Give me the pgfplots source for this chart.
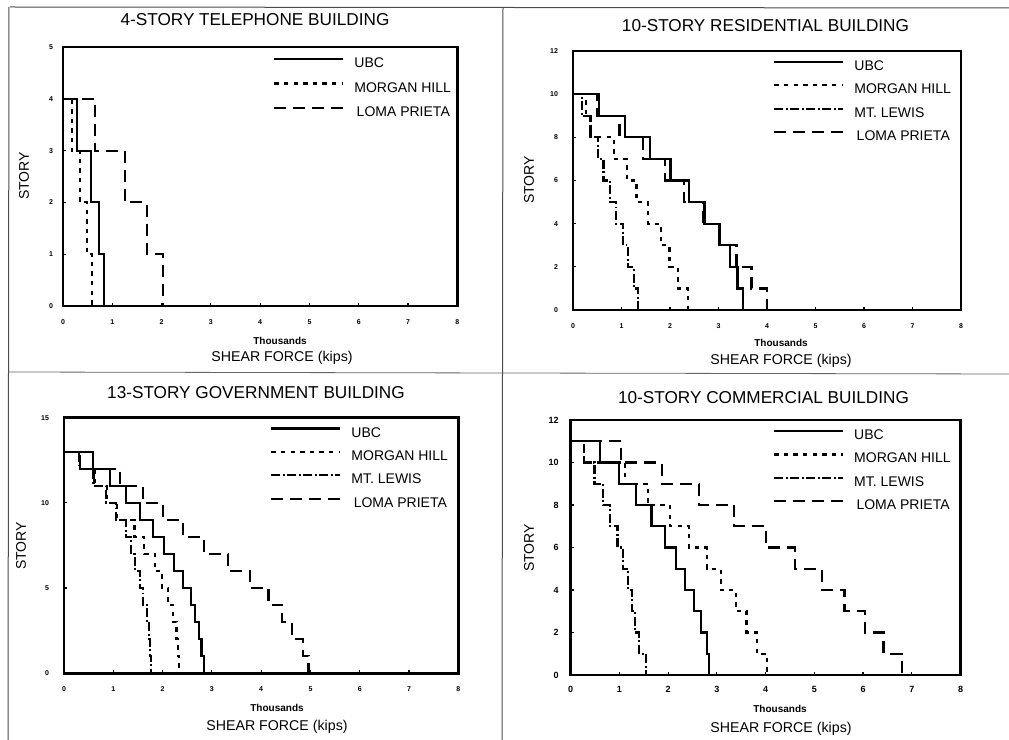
\documentclass[border=0pt]{standalone}
\usepackage{fontspec}
\setmainfont{Liberation Sans}
\usepackage{pgfplots}
\pgfplotsset{compat=1.18}

% story shear envelopes: each step plot starts at (0,N) and then lists (V_k, k-1),
% V_k = shear of story k (thousand kips), drawn with const plot mark left
\pgfplotsset{
  shearpanel/.style={
    scale only axis, anchor=south west,
    xmin=0, xmax=8, xtick={0,...,8}, ymin=0,
    tick pos=left, tick align=inside, major tick length=1.5pt,
    axis line style={line width=1.4pt},
    tick style={black, line width=0.6pt},
    ticklabel style={font=\fontsize{3.5}{4}\selectfont\bfseries},
    /pgf/number format/assume math mode=true,
    xticklabel shift=3.2pt, yticklabel shift=3pt,
    legend cell align=left,
    legend image code/.code={\draw[##1] (0pt,2.5pt) -- (34.5pt,2.5pt); \path (39.5pt,0pt);},
    legend style={draw=none, fill=none, anchor=north west, inner sep=0pt,
      font=\fontsize{7}{8}\selectfont,
      nodes={inner sep=0pt, text height=5pt, text depth=1.5pt}},
  },
  ubc/.style={black, line width=1.1pt, const plot mark left},
  morgan/.style={black, line width=1.1pt, dash pattern=on 2.2pt off 2.6pt, const plot mark left},
  lewis/.style={black, line width=1.1pt, dash pattern=on 4.5pt off 1.3pt on 0.9pt off 1.3pt, const plot mark left},
  loma/.style={black, line width=1.1pt, dash pattern=on 6pt off 3.5pt, const plot mark left},
}

\begin{document}
\begin{tikzpicture}

% 4-story telephone building
\begin{axis}[shearpanel, at={(31.5pt,217pt)}, width=197.2pt, height=129.5pt,
  ymax=5, ytick={0,...,5}, yticklabel shift=1.5pt,
  legend style={at={(0.532,0.961)}, row sep=5.75pt}]
\addplot[ubc] coordinates {(0,4)(0.29,3)(0.57,2)(0.73,1)(0.83,0)};
\addlegendentry{UBC}
\addplot[morgan] coordinates {(0,4)(0.18,3)(0.34,2)(0.48,1)(0.59,0)};
\addlegendentry{MORGAN HILL}
\addplot[loma] coordinates {(0,4)(0.65,3)(1.26,2)(1.71,1)(2.03,0)};
\addlegendentry{\,LOMA PRIETA}
\end{axis}

% 10-story residential building
\begin{axis}[shearpanel, at={(286.5pt,215pt)}, width=194pt, height=129.5pt,
  ymax=12, ytick={0,2,...,12}, yticklabel shift=4pt,
  legend style={at={(0.515,0.965)}, row sep=5.2pt}]
\addplot[ubc] coordinates {(0,10)(0.53,9)(1.07,8)(1.58,7)(2.01,6)(2.40,5)(2.71,4)(3.02,3)(3.24,2)(3.39,1)(3.51,0)};
\addlegendentry{UBC}
\addplot[morgan] coordinates {(0,10)(0.27,9)(0.36,8)(0.84,7)(1.11,6)(1.31,5)(1.55,4)(1.81,3)(1.99,2)(2.16,1)(2.37,0)};
\addlegendentry{MORGAN HILL}
\addplot[lewis] coordinates {(0,10)(0.18,9)(0.36,8)(0.51,7)(0.63,6)(0.76,5)(0.89,4)(1.03,3)(1.13,2)(1.25,1)(1.34,0)};
\addlegendentry{MT. LEWIS}
\addplot[loma] coordinates {(0,10)(0.50,9)(0.96,8)(1.45,7)(1.89,6)(2.29,5)(2.68,4)(3.01,3)(3.37,2)(3.68,1)(4.00,0)};
\addlegendentry{\,LOMA PRIETA}
\end{axis}

% 13-story government building
\begin{axis}[shearpanel, at={(32pt,33.35pt)}, width=197.2pt, height=127.8pt,
  ymax=15, ytick={0,5,10,15}, yticklabel shift=4pt,
  legend style={at={(0.522,0.965)}, row sep=5.2pt}]
\addplot[ubc] coordinates {(0,13)(0.59,12)(0.93,11)(1.25,10)(1.54,9)(1.81,8)(2.03,7)(2.23,6)(2.41,5)(2.57,4)(2.66,3)(2.74,2)(2.79,1)(2.84,0)};
\addlegendentry{UBC}
\addplot[morgan] coordinates {(0,13)(0.33,12)(0.62,11)(0.88,10)(1.08,9)(1.43,8)(1.63,7)(1.84,6)(1.99,5)(2.11,4)(2.21,3)(2.28,2)(2.31,1)(2.33,0)};
\addlegendentry{MORGAN HILL}
\addplot[lewis] coordinates {(0,13)(0.30,12)(0.60,11)(0.85,10)(1.05,9)(1.25,8)(1.36,7)(1.44,6)(1.54,5)(1.60,4)(1.69,3)(1.73,2)(1.75,1)(1.77,0)};
\addlegendentry{MT. LEWIS}
\addplot[loma] coordinates {(0,13)(0.33,12)(1.14,11)(1.60,10)(2.01,9)(2.41,8)(2.84,7)(3.33,6)(3.77,5)(4.15,4)(4.43,3)(4.63,2)(4.84,1)(4.96,0)};
\addlegendentry{\,LOMA PRIETA}
\end{axis}

% 10-story commercial building
\begin{axis}[shearpanel, at={(285.3pt,32.5pt)}, width=195pt, height=127.5pt,
  ymax=12, ytick={0,2,...,12}, yticklabel shift=2.5pt, xticklabel shift=1.9pt,
  ticklabel style={font=\fontsize{4.5}{5}\selectfont\bfseries},
  legend style={at={(0.518,0.964)}, row sep=5.2pt}]
\addplot[ubc] coordinates {(0,11)(0.61,10)(1.00,9)(1.34,8)(1.66,7)(1.94,6)(2.16,5)(2.35,4)(2.53,3)(2.67,2)(2.79,1)(2.84,0)};
\addlegendentry{UBC}
\addplot[morgan] coordinates {(0,11)(0.27,10)(1.12,9)(1.59,8)(2.04,7)(2.43,6)(2.79,5)(3.08,4)(3.39,3)(3.61,2)(3.82,1)(4.03,0)};
\addlegendentry{MORGAN HILL}
\addplot[lewis] coordinates {(0,11)(0.27,10)(0.49,9)(0.67,8)(0.81,7)(0.96,6)(1.08,5)(1.18,4)(1.26,3)(1.32,2)(1.41,1)(1.54,0)};
\addlegendentry{MT. LEWIS}
\addplot[loma] coordinates {(0,11)(1.03,10)(1.88,9)(2.64,8)(3.36,7)(4.01,6)(4.60,5)(5.15,4)(5.62,3)(6.04,2)(6.42,1)(6.79,0)};
\addlegendentry{\,LOMA PRIETA}
\end{axis}

% frame, titles and axis labels (coordinates in pixels of the 1009x740 page)
\begin{scope}[x=0.5pt, y=-0.5pt, shift={(0pt,370pt)}]
\path[use as bounding box] (0,0) rectangle (1009,740);
\draw[black!70, line width=0.5pt] (10,7) -- (1009,8);
\draw[black!70, line width=0.5pt] (9,7) -- (8,740);
\draw[black!70, line width=0.5pt] (503,8) -- (502,740);
\draw[black!60, line width=0.4pt] (8,372) -- (1009,374);
\begin{scope}[every node/.style={anchor=base, inner sep=0pt}]
\node[font=\fontsize{8.6}{10}\selectfont] at (255,26) {4-STORY TELEPHONE BUILDING};
\node[font=\fontsize{8.6}{10}\selectfont] at (765.5,32) {10-STORY RESIDENTIAL BUILDING};
\node[font=\fontsize{8.6}{10}\selectfont] at (256,399) {13-STORY GOVERNMENT BUILDING};
\node[font=\fontsize{8.6}{10}\selectfont] at (763.5,404) {10-STORY COMMERCIAL BUILDING};
\node[font=\fontsize{5}{6}\selectfont\bfseries] at (280,345) {Thousands};
\node[font=\fontsize{5}{6}\selectfont\bfseries] at (781,347) {Thousands};
\node[font=\fontsize{5}{6}\selectfont\bfseries] at (277,712) {Thousands};
\node[font=\fontsize{5}{6}\selectfont\bfseries] at (780,713) {Thousands};
\node[font=\fontsize{7.1}{8}\selectfont] at (282,362) {SHEAR FORCE (kips)};
\node[font=\fontsize{7.1}{8}\selectfont] at (781,365) {SHEAR FORCE (kips)};
\node[font=\fontsize{7.1}{8}\selectfont] at (277,731) {SHEAR FORCE (kips)};
\node[font=\fontsize{7.1}{8}\selectfont] at (781,733) {SHEAR FORCE (kips)};
\end{scope}
\begin{scope}[every node/.style={anchor=center, inner sep=0pt, rotate=90, font=\fontsize{7}{8}\selectfont}]
\node at (24,176) {STORY};
\node at (529,180) {STORY};
\node at (21,546) {STORY};
\node at (529,548) {STORY};
\end{scope}
\end{scope}

\end{tikzpicture}
\end{document}
